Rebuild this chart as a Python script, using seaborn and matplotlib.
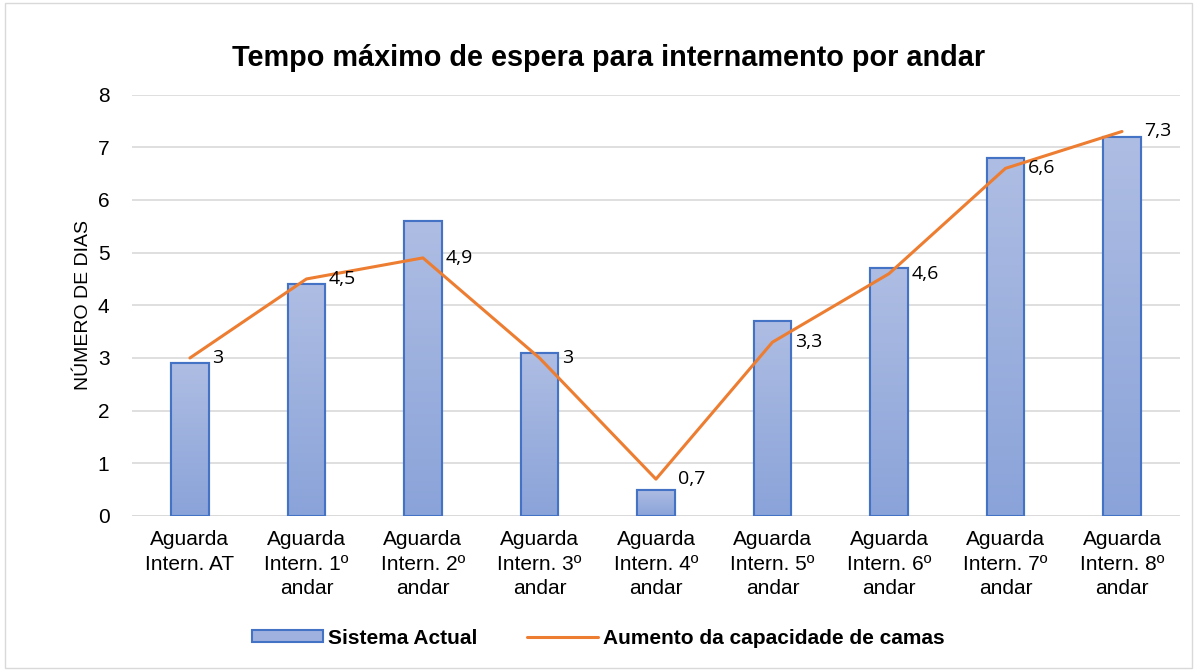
import numpy as np
import pandas as pd
import matplotlib
matplotlib.use("Agg")
import matplotlib.pyplot as plt
import seaborn as sns
from matplotlib import font_manager
from matplotlib.patches import Patch, Rectangle
from matplotlib.lines import Line2D

# =====================================
# DATA
# =====================================

categories = [
    "Aguarda\nIntern. AT",
    "Aguarda\nIntern. 1º\nandar",
    "Aguarda\nIntern. 2º\nandar",
    "Aguarda\nIntern. 3º\nandar",
    "Aguarda\nIntern. 4º\nandar",
    "Aguarda\nIntern. 5º\nandar",
    "Aguarda\nIntern. 6º\nandar",
    "Aguarda\nIntern. 7º\nandar",
    "Aguarda\nIntern. 8º\nandar",
]
sistema_actual = [2.9, 4.4, 5.6, 3.1, 0.5, 3.7, 4.7, 6.8, 7.2]
aumento_camas = [3.0, 4.5, 4.9, 3.0, 0.7, 3.3, 4.6, 6.6, 7.3]
line_labels = ["3", "4,5", "4,9", "3", "0,7", "3,3", "4,6", "6,6", "7,3"]

BAR_EDGE = "#4472c4"
LINE_COLOR = "#ed7d31"

# drop the narrow variant so "Liberation Sans" resolves to the regular width
font_manager.fontManager.ttflist = [
    f for f in font_manager.fontManager.ttflist
    if "Narrow" not in f.fname
]

# =====================================
# PLOT
# =====================================

sns.set_style("white")
plt.rcParams["font.family"] = ["Liberation Sans", "DejaVu Sans"]
plt.rcParams["text.color"] = "black"
plt.rcParams["axes.labelcolor"] = "black"
plt.rcParams["xtick.color"] = "black"
plt.rcParams["ytick.color"] = "black"

df = pd.DataFrame({"cat": categories, "val": sistema_actual})

fig = plt.figure(figsize=(11.97, 6.71), dpi=100)
ax = fig.add_axes([0.110, 0.231, 0.876, 0.628])

sns.barplot(
    data=df, x="cat", y="val", ax=ax,
    width=0.32, color="#9fb1df", edgecolor=BAR_EDGE, linewidth=1.5,
    zorder=2
)

# gradient fill inside each bar
grad = np.linspace(0, 1, 256).reshape(-1, 1)
cmap = matplotlib.colors.LinearSegmentedColormap.from_list(
    "bar", ["#8aa3d9", "#aebde3"]
)
for p in list(ax.patches):
    x0, y0 = p.get_x(), p.get_y()
    w, h = p.get_width(), p.get_height()
    im = ax.imshow(
        grad, cmap=cmap, aspect="auto", origin="lower",
        extent=[x0, x0 + w, y0, y0 + h], zorder=2.5
    )
    im.set_clip_path(p)
    ax.add_patch(Rectangle((x0, y0), w, h, fill=False,
                           edgecolor=BAR_EDGE, linewidth=1.5, zorder=3))

x = np.arange(len(categories))
ax.plot(x, aumento_camas, color=LINE_COLOR, linewidth=2.2, zorder=4)

for xi, yi, lab in zip(x, aumento_camas, line_labels):
    ax.annotate(lab, (xi, yi), xytext=(16, 0), textcoords="offset points",
                ha="left", va="center", fontsize=14, family="Open Sans",
                color="black", zorder=5)

ax.set_xlim(-0.5, len(categories) - 0.5)
ax.set_ylim(0, 8)
ax.set_yticks(range(0, 9))
ax.yaxis.grid(True, color="#d9d9d9", linewidth=1.2, zorder=0)
ax.set_axisbelow(True)
for s in ax.spines.values():
    s.set_visible(False)
ax.axhline(0, color="#d9d9d9", linewidth=1.2, zorder=1)

ax.tick_params(axis="y", length=0, labelsize=15, pad=16)
ax.tick_params(axis="x", length=0, labelsize=15, pad=10)
for t in ax.get_xticklabels():
    t.set_linespacing(1.38)
ax.set_xlabel("")
ax.set_ylabel("NÚMERO DE DIAS", fontsize=14, labelpad=4)

fig.text(0.508, 0.914, "Tempo máximo de espera para internamento por andar",
         ha="center", va="center", fontsize=20.8, fontweight="bold")

handles = [
    Patch(facecolor="#9fb1df", edgecolor=BAR_EDGE, linewidth=1.5),
    Line2D([0], [0], color=LINE_COLOR, linewidth=2.2),
]
fig.legend(handles, ["Sistema Actual", "Aumento da capacidade de camas"],
           loc="center", bbox_to_anchor=(0.5, 0.049), ncol=2, frameon=False,
           prop={"weight": "bold", "size": 15}, handlelength=3.4,
           handleheight=0.5, columnspacing=2.4, handletextpad=0.25)

fig.patches.append(Rectangle((0.004, 0.004), 0.992, 0.992,
                             transform=fig.transFigure, fill=False,
                             edgecolor="#d9d9d9", linewidth=1))

fig.savefig("out.png", dpi=100)
